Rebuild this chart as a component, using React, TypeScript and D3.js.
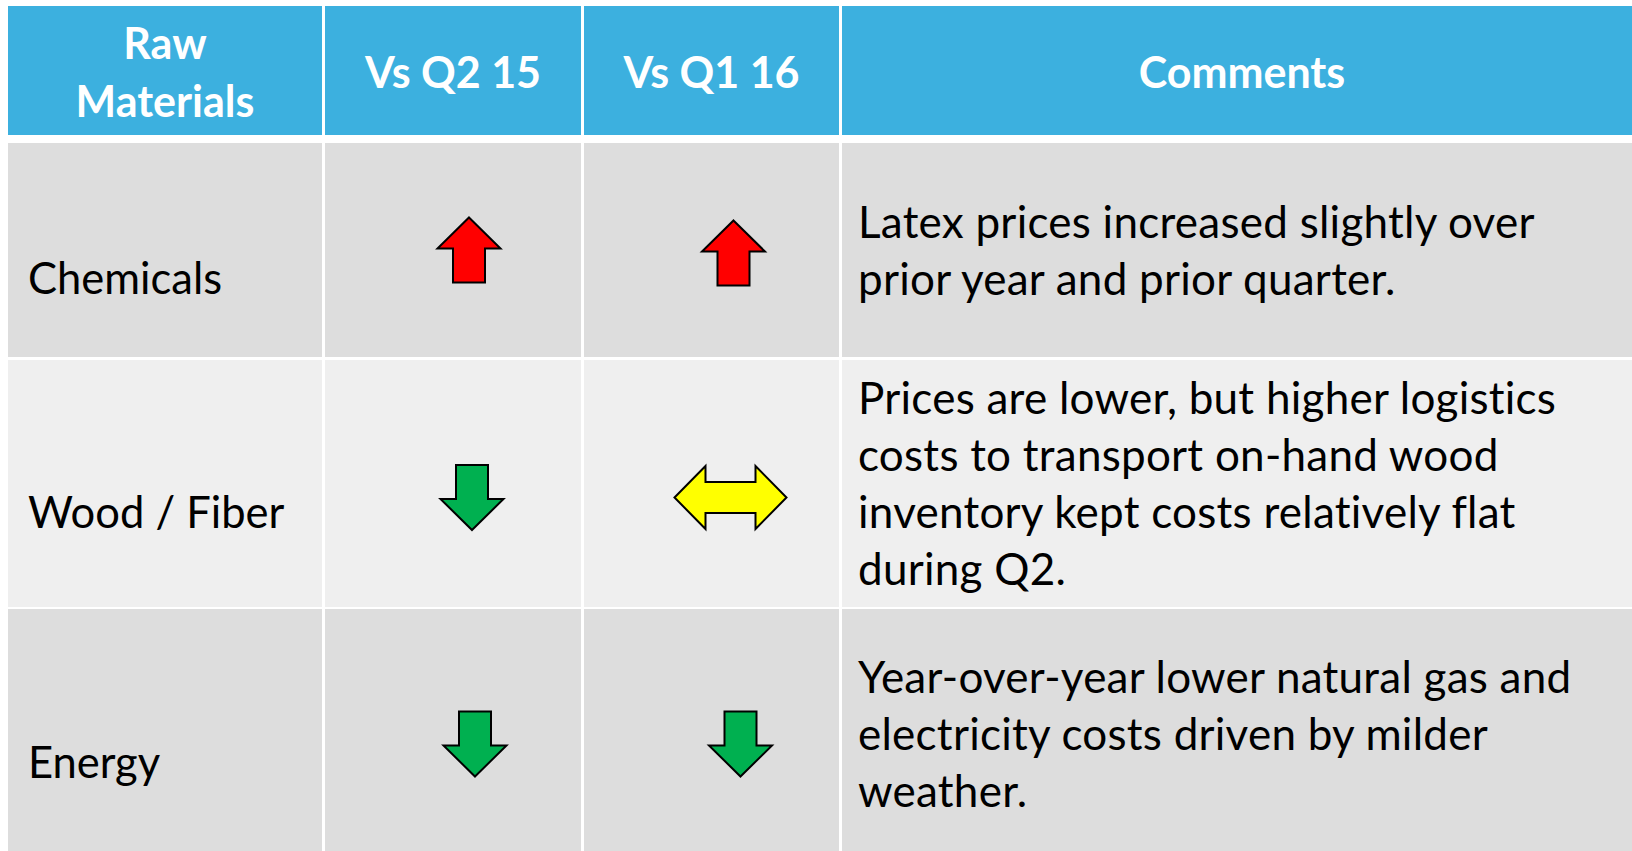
import React, { useEffect, useRef } from 'react';
import * as d3 from 'd3';

// Table content
const headers = [['Raw', 'Materials'], ['Vs Q2 15'], ['Vs Q1 16'], ['Comments']];
const materials = ['Chemicals', 'Wood / Fiber', 'Energy'];
const vsQ215 = ['up', 'down', 'down'];
const vsQ116 = ['up', 'flat', 'down'];
const comments = [
  ['Latex prices increased slightly over', 'prior year and prior quarter.'],
  [
    'Prices are lower, but higher logistics',
    'costs to transport on-hand wood',
    'inventory kept costs relatively flat',
    'during Q2.',
  ],
  ['Year-over-year lower natural gas and', 'electricity costs driven by milder', 'weather.'],
];
const arrowColors = { up: '#ff0000', down: '#00b050', flat: '#ffff00' };

// Layout
const W = 1632;
const H = 851;
const colX = [8, 325, 584, 842];
const colW = [314, 256, 255, 800];
const headerTop = 6;
const headerH = 129;
const rowY = [143, 360, 609];
const rowH = [214, 247, 250];
const rowFill = ['#dddddd', '#efefef', '#dddddd'];
// small per-cell nudges so arrows sit where the slide put them
const nudgeQ2 = [[16, 0], [19, 14], [22, 10]];
const nudgeQ1 = [[22, 3], [19, 14], [29, 10]];

const FONT = 'Lato, "Open Sans", sans-serif';

function arrowPath(kind) {
  if (kind === 'flat') {
    const w = 112, h = 63, head = 31, s = 31;
    return `M${-w / 2},0 L${-w / 2 + head},${-h / 2} L${-w / 2 + head},${-s / 2} L${w / 2 - head},${-s / 2} L${w / 2 - head},${-h / 2} L${w / 2},0 L${w / 2 - head},${h / 2} L${w / 2 - head},${s / 2} L${-w / 2 + head},${s / 2} L${-w / 2 + head},${h / 2} Z`;
  }
  const w = 63, h = 65, head = 31, s = 32;
  const d = kind === 'up' ? 1 : -1;
  const p = [
    [0, -h / 2],
    [w / 2, -h / 2 + head],
    [s / 2, -h / 2 + head],
    [s / 2, h / 2],
    [-s / 2, h / 2],
    [-s / 2, -h / 2 + head],
    [-w / 2, -h / 2 + head],
  ];
  return 'M' + p.map(([x, y]) => `${x},${y * d}`).join(' L') + ' Z';
}

function App() {
  const ref = useRef(null);

  useEffect(() => {
    const svg = d3.select(ref.current);
    svg.selectAll('*').remove();

    const xCol = d3.scaleOrdinal().domain(d3.range(4)).range(colX);
    const yRow = d3.scaleOrdinal().domain(materials).range(rowY);
    const hRow = d3.scaleOrdinal().domain(materials).range(rowH);

    svg.append('rect').attr('width', W).attr('height', H).attr('fill', '#ffffff');

    // Header
    const head = svg.append('g').attr('class', 'header');
    headers.forEach((lines, i) => {
      head
        .append('rect')
        .attr('x', xCol(i))
        .attr('y', headerTop)
        .attr('width', colW[i])
        .attr('height', headerH)
        .attr('fill', '#3cb0df');
      const cx = xCol(i) + colW[i] / 2;
      const lh = 58;
      const first = headerTop + headerH / 2 + 17 - ((lines.length - 1) * lh) / 2;
      lines.forEach((t, j) => {
        head
          .append('text')
          .attr('x', cx)
          .attr('y', first + j * lh)
          .attr('text-anchor', 'middle')
          .attr('fill', '#ffffff')
          .style('font-family', FONT)
          .style('font-weight', 700)
          .style('font-size', '43px')
          .text(t);
      });
    });

    // Body rows
    const rows = svg
      .append('g')
      .attr('class', 'rows')
      .selectAll('g')
      .data(materials)
      .enter()
      .append('g');

    rows.each(function (m, r) {
      const g = d3.select(this);
      const y0 = yRow(m);
      const h = hRow(m);
      const cy = y0 + h / 2;
      d3.range(4).forEach(i => {
        g.append('rect')
          .attr('x', xCol(i))
          .attr('y', y0)
          .attr('width', colW[i])
          .attr('height', h)
          .attr('fill', rowFill[r]);
      });

      g.append('text')
        .attr('x', 28)
        .attr('y', cy + 44)
        .style('font-family', FONT)
        .style('font-size', '43.5px')
        .attr('fill', '#000')
        .text(m);

      [[vsQ215[r], 1, nudgeQ2[r]], [vsQ116[r], 2, nudgeQ1[r]]].forEach(([kind, c, n]) => {
        g.append('path')
          .attr('d', arrowPath(kind))
          .attr(
            'transform',
            `translate(${xCol(c) + colW[c] / 2 + n[0]},${cy + n[1]})`
          )
          .attr('fill', arrowColors[kind])
          .attr('stroke', '#000')
          .attr('stroke-width', 2)
          .attr('stroke-linejoin', 'miter');
      });

      const lines = comments[r];
      const lh = 57;
      const first = cy + 16 - ((lines.length - 1) * lh) / 2;
      lines.forEach((t, j) => {
        g.append('text')
          .attr('x', 858)
          .attr('y', first + j * lh)
          .style('font-family', FONT)
          .style('font-size', '44px')
          .style('letter-spacing', '0.25px')
          .attr('fill', '#000')
          .text(t);
      });
    });
  }, []);

  return (
    <svg
      ref={ref}
      width={W}
      height={H}
      style={{ position: 'absolute', left: 0, top: 0, display: 'block' }}
    />
  );
}

export default App;
